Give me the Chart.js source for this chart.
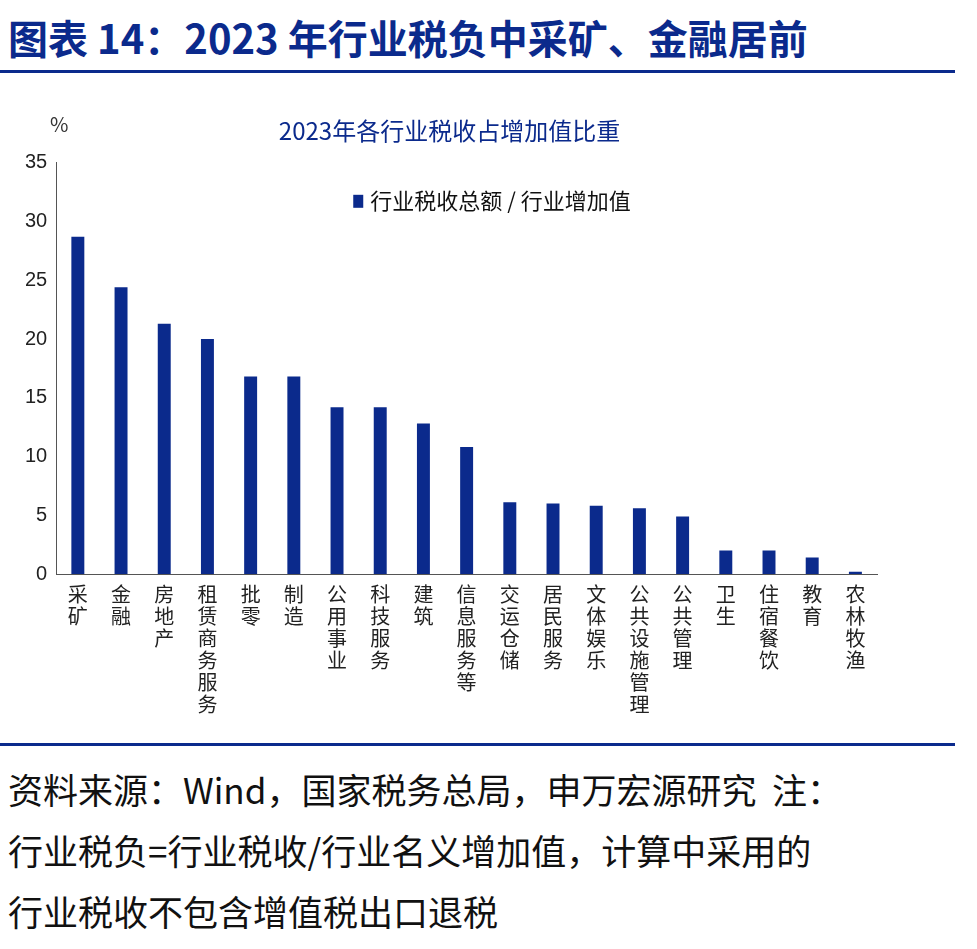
<!DOCTYPE html>
<html><head><meta charset="utf-8">
<script src="https://cdn.jsdelivr.net/npm/chart.js@4"></script>
<style>
body{margin:0;background:#fff;font-family:"Noto Sans CJK SC",sans-serif;width:977px;height:949px;position:relative;overflow:hidden}
#head{position:absolute;left:8px;top:12px;font-size:40px;line-height:50px;font-weight:bold;color:#0b2a8c;white-space:nowrap}
.rule{position:absolute;left:0;width:955px;height:3px;background:#0b2a8c}
#wrap{position:absolute;left:0;top:100px;width:977px;height:618px}
#src{position:absolute;left:8px;top:758px;font-size:35px;line-height:61px;color:#111;white-space:nowrap}
</style></head><body>
<div id="head">图表 14：2023 年行业税负中采矿、金融居前</div>
<div class="rule" style="top:70px"></div>
<div id="wrap"><canvas id="c"></canvas></div>
<div class="rule" style="top:743px"></div>
<div id="src">资料来源：Wind，国家税务总局，申万宏源研究&nbsp; 注：<br>行业税负=行业税收/行业名义增加值，计算中采用的<br>行业税收不包含增值税出口退税</div>
<script>
const categories = ['采矿','金融','房地产','租赁商务服务','批零','制造','公用事业','科技服务','建筑','信息服务等','交运仓储','居民服务','文体娱乐','公共设施管理','公共管理','卫生','住宿餐饮','教育','农林牧渔'];
const taxShare = [28.7,24.4,21.3,20.0,16.8,16.8,14.2,14.2,12.8,10.8,6.1,6.0,5.8,5.6,4.9,2.0,2.0,1.4,0.2];
const seriesName = '行业税收总额 / 行业增加值';
const chartTitle = '2023年各行业税收占增加值比重';
const navy = '#0b2a8c';

const extras = {
  id: 'extras',
  afterDraw(chart) {
    const {ctx, chartArea: a} = chart;
    ctx.save();
    ctx.font = '20px "Noto Sans CJK SC"';
    ctx.fillStyle = '#333';
    ctx.textBaseline = 'middle';
    ctx.fillText('%', 50, 24);
    ctx.fillStyle = navy;
    ctx.fillRect(a.left + 297, a.top + 32, 10, 13);
    ctx.fillStyle = '#111';
    ctx.font = '22px "Noto Sans CJK SC"';
    ctx.fillText(seriesName, a.left + 314, a.top + 38);
    ctx.restore();
  }
};

new Chart(document.getElementById('c'), {
  type: 'bar',
  data: {
    labels: categories.map(s => s.split('')),
    datasets: [{label: seriesName, data: taxShare, backgroundColor: navy, barPercentage: 0.3, categoryPercentage: 1}]
  },
  options: {
    responsive: true, maintainAspectRatio: false, animation: false,
    layout: {padding: {top: 0, right: 100, left: 22, bottom: 0}},
    plugins: {
      legend: {display: false},
      tooltip: {enabled: false},
      title: {display: true, text: chartTitle, color: '#0b2a8c', font: {size: 24, family: '"Noto Sans CJK SC"', weight: 'normal'}, padding: {top: 16, bottom: 18}}
    },
    scales: {
      x: {
        grid: {display: false, drawTicks: true, tickLength: 6},
        border: {color: '#555'},
        ticks: {color: '#222', font: {size: 20, family: '"Noto Sans CJK SC"', lineHeight: 1.1}, maxRotation: 0, autoSkip: false}
      },
      y: {
        min: 0, max: 35,
        grid: {display: false, drawTicks: true, tickLength: 6},
        border: {color: '#555'},
        ticks: {stepSize: 5, color: '#222', font: {size: 20, family: 'Arial, "Liberation Sans"'}}
      }
    }
  },
  plugins: [extras]
});
</script>
</body></html>
